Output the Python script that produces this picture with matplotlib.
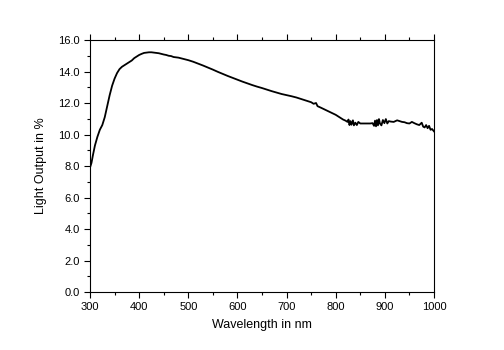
import matplotlib
matplotlib.use("Agg")
import matplotlib.pyplot as plt
from matplotlib.ticker import MultipleLocator, FormatStrFormatter

plt.rcParams['font.family'] = ['Liberation Sans', 'DejaVu Sans']

# wavelength (nm) and light output (%)
wavelength = [300, 303, 306, 310, 315, 320, 325, 330, 335, 340, 345, 350, 355, 360,
              365, 370, 375, 380, 385, 390, 395, 400, 405, 410, 415, 420, 425, 430,
              435, 440, 445, 450, 455, 460, 465, 470, 475, 480, 485, 490, 500, 510,
              520, 530, 540, 550, 560, 570, 580, 590, 600, 610, 620, 630, 640, 650,
              660, 670, 680, 690, 700, 710, 720, 730, 740, 750, 755, 760, 763, 770,
              780, 790, 800, 805, 810, 815, 820, 824, 826, 828, 830, 832, 835, 837,
              840, 843, 846, 850, 860, 870, 875, 878, 880, 882, 884, 886, 888, 890,
              893, 896, 899, 902, 905, 908, 912, 918, 925, 930, 935, 940, 945, 950,
              955, 960, 965, 970, 975, 978, 981, 984, 987, 990, 993, 996, 1000]
light_output = [7.9, 8.2, 8.7, 9.3, 9.85, 10.3, 10.6, 11.1, 11.8, 12.5, 13.1, 13.55, 13.9, 14.15,
                14.3, 14.4, 14.5, 14.6, 14.7, 14.85, 14.95, 15.05, 15.12, 15.18, 15.2, 15.22, 15.22, 15.2,
                15.18, 15.16, 15.12, 15.08, 15.05, 15.0, 14.98, 14.92, 14.9, 14.88, 14.84, 14.8, 14.72, 14.62,
                14.5, 14.38, 14.25, 14.12, 13.98, 13.85, 13.72, 13.6, 13.48, 13.36, 13.25, 13.14, 13.04, 12.95,
                12.85, 12.75, 12.66, 12.57, 12.5, 12.43, 12.35, 12.25, 12.15, 12.05, 11.95, 12.0, 11.8, 11.7,
                11.55, 11.4, 11.25, 11.15, 11.05, 10.95, 10.88, 10.8, 10.95, 10.6, 10.85, 10.62, 10.9, 10.58,
                10.75, 10.6, 10.8, 10.7, 10.7, 10.7, 10.72, 10.55, 10.88, 10.52, 10.92, 10.58, 10.98, 10.7,
                10.58, 10.92, 10.72, 10.98, 10.7, 10.85, 10.82, 10.8, 10.9, 10.85, 10.8, 10.78, 10.72, 10.7,
                10.8, 10.72, 10.65, 10.6, 10.75, 10.5, 10.45, 10.6, 10.4, 10.55, 10.3, 10.35, 10.2]

fig = plt.figure(figsize=(5.04, 3.5), dpi=100)
ax = fig.add_axes([0.1786, 0.1657, 0.6825, 0.72])

ax.plot(wavelength, light_output, color="black", lw=1.3)

ax.set_xlim(300, 1000)
ax.set_ylim(0, 16)
ax.xaxis.set_major_locator(MultipleLocator(100))
ax.xaxis.set_minor_locator(MultipleLocator(50))
ax.yaxis.set_major_locator(MultipleLocator(2))
ax.yaxis.set_minor_locator(MultipleLocator(1))
ax.yaxis.set_major_formatter(FormatStrFormatter("%.1f"))

ax.tick_params(which="both", direction="out", top=True, right=False,
               labelsize=8, width=0.8)
ax.tick_params(which="major", length=4)
ax.tick_params(which="minor", length=2.5)
for s in ax.spines.values():
    s.set_linewidth(0.8)

ax.set_xlabel("Wavelength in nm", fontsize=9, labelpad=5)
ax.set_ylabel("Light Output in %", fontsize=9, labelpad=8)

fig.savefig("out.png", dpi=100)
